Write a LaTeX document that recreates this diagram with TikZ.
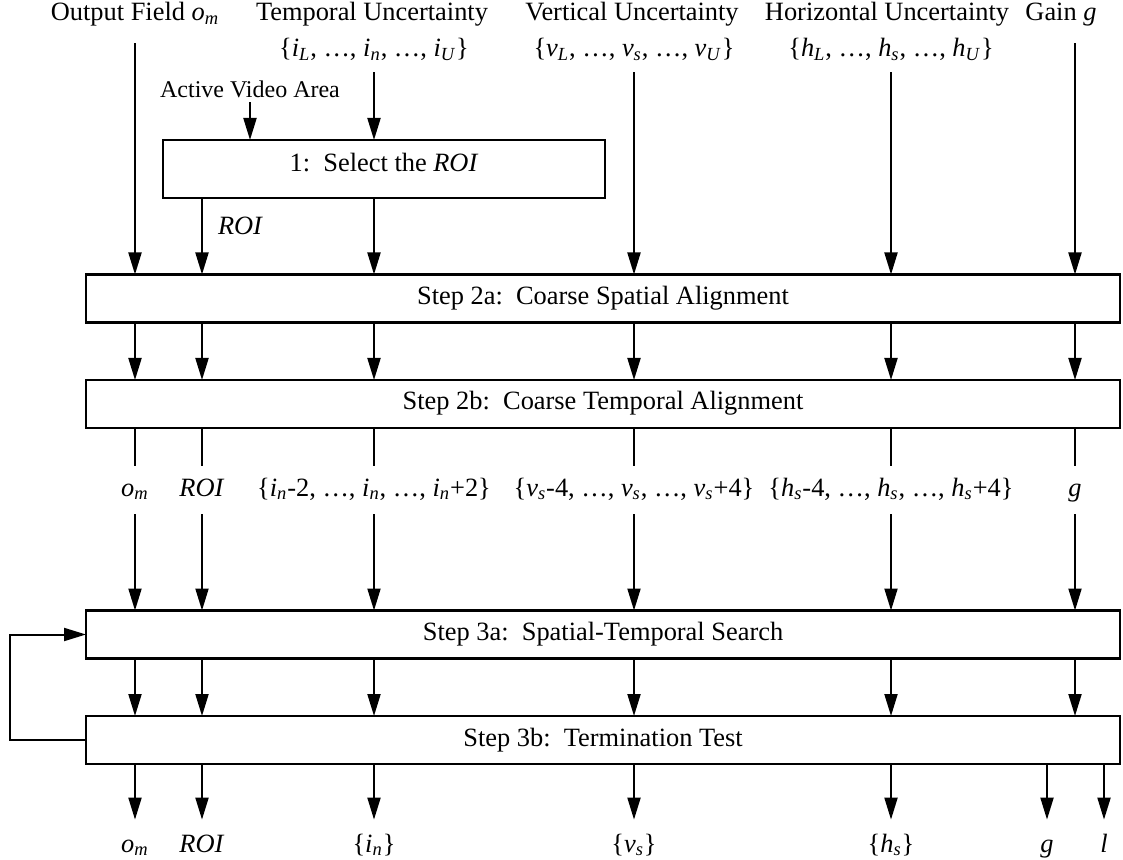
\documentclass[tikz,border=0pt]{standalone}
\usepackage{fontspec}
\setmainfont{Liberation Serif}
\usetikzlibrary{arrows.meta}
% italic symbol and italic subscript
\newcommand\vi[1]{\textit{#1}}
\newcommand\sbi[1]{\textsubscript{\textit{#1}}}

\begin{document}
\begin{tikzpicture}[x=0.5pt,y=-0.5pt,
  txt/.style={font=\fontsize{13.2}{16}\selectfont},
  box/.style={txt,draw,line width=1.4pt,outer sep=0pt,inner sep=0pt,text height=9pt,text depth=3pt},
  wide/.style={box,minimum width=517pt,minimum height=24pt},
  lbl/.style={txt,inner xsep=0pt,anchor=base,text height=9pt,text depth=3pt},
  title/.style={lbl,inner ysep=8pt},
  setl/.style={lbl,inner ysep=4.5pt},
  midl/.style={lbl,inner ysep=6pt},
  outl/.style={lbl,inner ysep=7pt},
  arr/.style={line width=1pt,-{Triangle[length=11pt,width=6.5pt]}},
  ln/.style={line width=1pt},
]
\useasboundingbox (0,0) rectangle (1123,860);

% column positions
\coordinate (cOm) at (135,0);
\coordinate (cROI) at (202,0);
\coordinate (cT) at (374,0);
\coordinate (cV) at (634,0);
\coordinate (cH) at (891,0);
\coordinate (cG) at (1075,0);

% input titles
\node[title] (tOut) at (135,21) {Output Field \vi{o}\sbi{m}};
\node[title] (tTemp) at (372,21) {Temporal Uncertainty};
\node[title] (tVert) at (632,21) {Vertical Uncertainty};
\node[title] (tHor) at (887,21) {Horizontal Uncertainty};
\node[title] (tGain) at (1061,21) {Gain \vi{g}};
\node[setl] (tTempSet) at (374,57) {\{\vi{i}\sbi{L}, …, \vi{i}\sbi{n}, …, \vi{i}\sbi{U}\}};
\node[setl] (tVertSet) at (634,57) {\{\vi{v}\sbi{L}, …, \vi{v}\sbi{s}, …, \vi{v}\sbi{U}\}};
\node[setl] (tHorSet) at (891,57) {\{\vi{h}\sbi{L}, …, \vi{h}\sbi{s}, …, \vi{h}\sbi{U}\}};
\node[anchor=base,font=\fontsize{12}{14}\selectfont,inner xsep=0pt,inner ysep=2pt,text depth=0pt] (tAct) at (250,98) {Active Video Area};

% processing blocks
\node[box,minimum width=221pt,minimum height=29pt,text depth=6pt] (sel) at (384,169) {1:~~Select the \vi{ROI}};
\node[wide] (s2a) at (603,298.5) {Step 2a:~~Coarse Spatial Alignment};
\node[wide] (s2b) at (603,404) {Step 2b:~~Coarse Temporal Alignment};
\node[wide] (s3a) at (603,634.5) {Step 3a:~~Spatial-Temporal Search};
\node[wide] (s3b) at (603,740) {Step 3b:~~Termination Test};

% inputs into the first blocks
\draw[arr] (tAct.south) -- (sel.north -| tAct);
\draw[arr] (tTempSet.south) -- (sel.north -| cT);
\draw[arr] (tOut.south) -- (s2a.north -| cOm);
\draw[arr] (sel.south -| cROI) -- (s2a.north -| cROI);
\node[txt,anchor=base,font=\fontsize{13.2}{16}\selectfont\itshape] (roiLbl) at (240,235) {ROI};
\draw[arr] (sel.south -| cT) -- (s2a.north -| cT);
\draw[arr] (tVertSet.south) -- (s2a.north -| cV);
\draw[arr] (tHorSet.south) -- (s2a.north -| cH);
\draw[arr] (tGain.south -| cG) -- (s2a.north -| cG);

% step 2a to step 2b
\foreach \c in {cOm,cROI,cT,cV,cH,cG}
  \draw[arr] (s2a.south -| \c) -- (s2b.north -| \c);

% intermediate values
\node[midl] (mOm) at (135,496) {\vi{o}\sbi{m}};
\node[midl] (mROI) at (202,496) {\vi{ROI}};
\node[midl] (mT) at (374,496) {\{\vi{i}\sbi{n}-2, …, \vi{i}\sbi{n}, …, \vi{i}\sbi{n}+2\}};
\node[midl] (mV) at (634,496) {\{\vi{v}\sbi{s}-4, …, \vi{v}\sbi{s}, …, \vi{v}\sbi{s}+4\}};
\node[midl] (mH) at (891,496) {\{\vi{h}\sbi{s}-4, …, \vi{h}\sbi{s}, …, \vi{h}\sbi{s}+4\}};
\node[midl] (mG) at (1075,496) {\vi{g}};
\foreach \m in {mOm,mROI,mT,mV,mH,mG} {
  \draw[ln] (s2b.south -| \m) -- (\m.north);
  \draw[arr] (\m.south) -- (s3a.north -| \m);
}

% step 3a to step 3b, and the search loop
\foreach \c in {cOm,cROI,cT,cV,cH,cG}
  \draw[arr] (s3a.south -| \c) -- (s3b.north -| \c);
\draw[arr] (s3b.west) -- ++(-76,0) |- (s3a.west);

% outputs
\node[outl] (oOm) at (135,852) {\vi{o}\sbi{m}};
\node[outl] (oROI) at (202,852) {\vi{ROI}};
\node[outl] (oT) at (374,852) {\{\vi{i}\sbi{n}\}};
\node[outl] (oV) at (634,852) {\{\vi{v}\sbi{s}\}};
\node[outl] (oH) at (891,852) {\{\vi{h}\sbi{s}\}};
\node[outl] (oG) at (1047,852) {\vi{g}};
\node[outl] (oL) at (1104,852) {\vi{l}};
\foreach \o in {oOm,oROI,oT,oV,oH,oG,oL}
  \draw[arr] (s3b.south -| \o) -- (\o.north);
\end{tikzpicture}
\end{document}
